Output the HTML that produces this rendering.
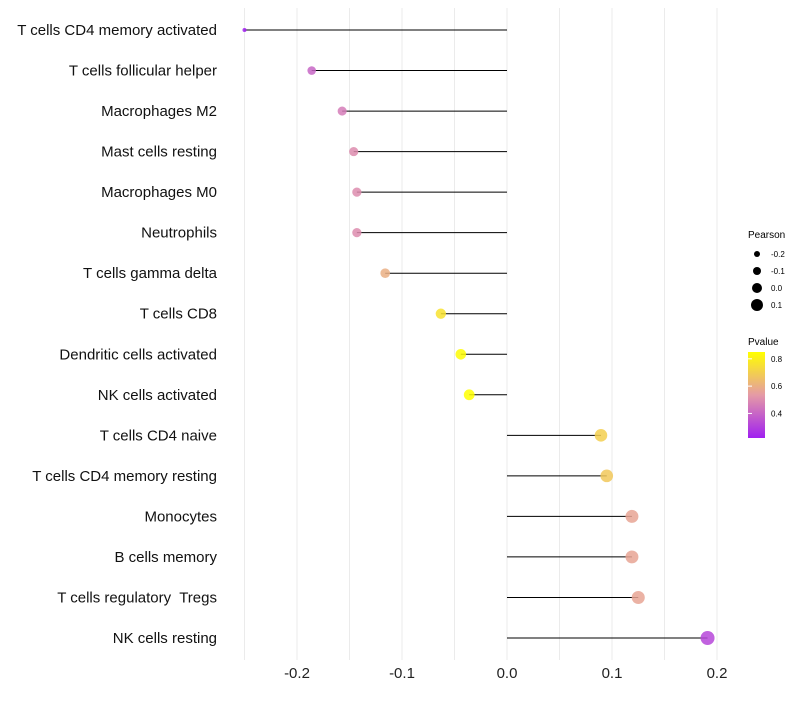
<!DOCTYPE html>
<html><head><meta charset="utf-8"><style>
body{margin:0;background:#fff;font-family:"Liberation Sans",sans-serif}
svg text{font-family:"Liberation Sans",sans-serif;white-space:pre}
</style></head><body>
<svg id="chart" width="800" height="700" xmlns="http://www.w3.org/2000/svg">
<g id="grid"></g>
<g id="ylabels"></g>
<g id="xlabels"></g>
<g id="marks"></g>
<g id="legend">
<defs><linearGradient id="pg" x1="0" y1="1" x2="0" y2="0">
<stop offset="0" stop-color="#a020f0"/><stop offset="0.5" stop-color="#e59aa6"/><stop offset="1" stop-color="#ffff00"/></linearGradient></defs>
<text x="748" y="238" font-size="10">Pearson</text>
<text x="748" y="345" font-size="10">Pvalue</text>
<rect x="748" y="352" width="17" height="86" fill="url(#pg)"/>
</g>
</svg>
<script>
const categories=["T cells CD4 memory activated","T cells follicular helper","Macrophages M2","Mast cells resting","Macrophages M0","Neutrophils","T cells gamma delta","T cells CD8","Dendritic cells activated","NK cells activated","T cells CD4 naive","T cells CD4 memory resting","Monocytes","B cells memory","T cells regulatory  Tregs","NK cells resting"];
const pearson=[-0.25,-0.186,-0.157,-0.146,-0.143,-0.143,-0.116,-0.063,-0.044,-0.036,0.0895,0.095,0.119,0.119,0.125,0.191];
const pvalue=[0.22,0.40,0.46,0.50,0.50,0.50,0.60,0.76,0.84,0.85,0.70,0.68,0.57,0.57,0.57,0.32];
const xTicks=[-0.2,-0.1,0.0,0.1,0.2];
const xTickLabels=["-0.2","-0.1","0.0","0.1","0.2"];
const sizeLegend=[-0.2,-0.1,0.0,0.1];
const pTicks=[0.4,0.6,0.8];
const NS="http://www.w3.org/2000/svg";
const x=v=>507+v*1050;
const y=i=>30+i*(608/15);
const r=v=>v<-0.186?2+(v+0.25)/0.064*2.3:4.3+(v+0.186)/0.377*2.7;
const rl=v=>3+(v+0.2)*10;
const pMin=0.22,pMax=0.85;
const pY=p=>438-(p-pMin)/(pMax-pMin)*86;
function lerp(a,b,t){return a.map((c,i)=>Math.round(c+(b[i]-c)*t));}
function col(p){let t=Math.max(0,Math.min(1,(p-pMin)/(pMax-pMin)));
 const A=[160,32,240],M=[229,154,166],B=[255,255,0];
 const c=t<0.5?lerp(A,M,t*2):lerp(M,B,(t-0.5)*2);return `rgb(${c})`;}
function mk(tag,attrs,parent){const e=document.createElementNS(NS,tag);for(const k in attrs)e.setAttribute(k,attrs[k]);parent.appendChild(e);return e;}
const grid=document.getElementById('grid');
for(let v=-0.25;v<=0.2001;v+=0.05){const l=mk('line',{x1:x(v),x2:x(v),y1:8,y2:660,stroke:'#ebebeb','stroke-width':1},grid);

}
const xl=document.getElementById('xlabels');
xTicks.forEach((v,i)=>{const t=mk('text',{x:x(v),y:678,'font-size':15,'text-anchor':'middle',fill:'#222'},xl);t.textContent=xTickLabels[i];

});
const yl=document.getElementById('ylabels'),marks=document.getElementById('marks');
categories.forEach((c,i)=>{const t=mk('text',{x:217,y:y(i)+5,'font-size':15,'text-anchor':'end',fill:'#111'},yl);t.textContent=c;


const l=mk('line',{x1:x(0),x2:x(pearson[i]),y1:y(i),y2:y(i),stroke:'#000','stroke-width':1},marks);


const d=mk('circle',{cx:x(pearson[i]),cy:y(i),r:r(pearson[i]),fill:col(pvalue[i]),'fill-opacity':0.85},marks);

});
const lg=document.getElementById('legend');
sizeLegend.forEach((v,i)=>{const cy=254+i*17;
const c=mk('circle',{cx:757,cy:cy,r:rl(v),fill:'#000'},lg);


const t=mk('text',{x:771,y:cy+3,'font-size':8},lg);t.textContent=v.toFixed(1);

});
pTicks.forEach(p=>{const t=mk('text',{x:771,y:pY(p)+3,'font-size':8},lg);t.textContent=p.toFixed(1);


const l=mk('line',{x1:748,x2:752,y1:pY(p),y2:pY(p),stroke:'#fff'},lg);

});
</script>
</body></html>
